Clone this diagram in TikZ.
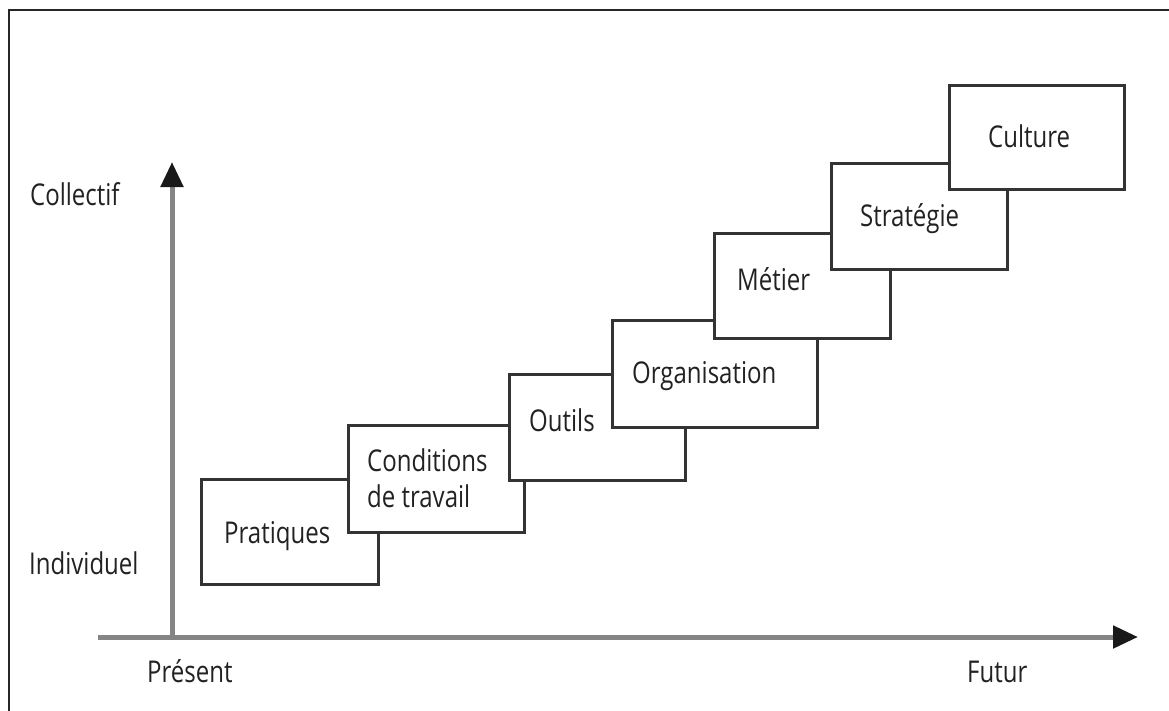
\documentclass[tikz,border=0pt]{standalone}
\usepackage{fontspec}
\setmainfont{Open Sans}[FakeStretch=0.8]
\usetikzlibrary{arrows.meta}
\definecolor{axisgray}{HTML}{858585}
\definecolor{boxline}{HTML}{333333}
\definecolor{txt}{HTML}{222222}
\begin{document}
\begin{tikzpicture}[x=1pt,y=-1pt,
  stepbox/.style={draw=boxline, line width=2.5pt, fill=white, rectangle, inner sep=0pt, anchor=north west},
  lbl/.style={font=\fontsize{30}{36}\selectfont, text=txt, inner sep=0pt, anchor=base west, align=left},
  axis/.style={draw=axisgray, line width=5pt, -{Triangle[length=25pt,width=22pt,color=black!90]}}]
\path[use as bounding box] (0,0) rectangle (1169,710);
\draw[line width=2pt, black!85] (9,712) -- (9,10) -- (1171,10);
% axes
\coordinate (o) at (172,637);
\coordinate (xs) at (98,637);
\coordinate (xe) at (1138,637);
\coordinate (ye) at (172,162);
\draw[axis] (xs) -- (xe);
\draw[axis] (o) -- (ye);
% steps
\node[stepbox, minimum width=177pt, minimum height=105pt] (b1) at (200,478) {};
\node[lbl] (t1) at (224,543) {Pratiques};
\node[stepbox, minimum width=176pt, minimum height=107pt] (b2) at (347,424) {};
\node[lbl] (t2) at (367,507) {Conditions\\de travail};
\node[stepbox, minimum width=176pt, minimum height=106pt] (b3) at (508,373) {};
\node[lbl] (t3) at (529,431) {Outils};
\node[stepbox, minimum width=205pt, minimum height=107pt] (b4) at (611,319) {};
\node[lbl] (t4) at (632,383) {Organisation};
\node[stepbox, minimum width=176pt, minimum height=105pt] (b5) at (713,232) {};
\node[lbl] (t5) at (737,290) {Métier};
\node[stepbox, minimum width=176pt, minimum height=106pt] (b6) at (830,162) {};
\node[lbl] (t6) at (860,226) {Stratégie};
\node[stepbox, minimum width=175pt, minimum height=104pt] (b7) at (948,84) {};
\node[lbl] (t7) at (988,147) {Culture};
% axis labels
\node[lbl] (coll) at (30,205) {Collectif};
\node[lbl] (indiv) at (29,574) {Individuel};
\node[lbl] (pres) at (147,682) {Présent};
\node[lbl] (fut) at (967,682) {Futur};
\end{tikzpicture}
\end{document}
